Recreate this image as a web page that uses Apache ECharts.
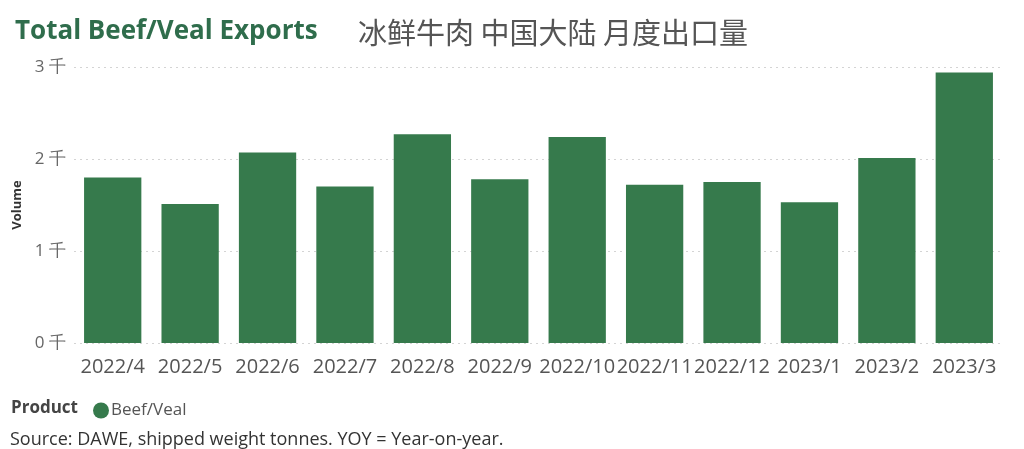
<!DOCTYPE html>
<html>
<head>
<meta charset="utf-8">
<script src="https://cdn.jsdelivr.net/npm/echarts@6/dist/echarts.min.js"></script>
<style>
html,body{margin:0;padding:0;background:#fff;}
#c{width:1024px;height:449px;}
</style>
</head>
<body>
<div id="c"></div>
<script>
const categories = ['2022/4','2022/5','2022/6','2022/7','2022/8','2022/9','2022/10','2022/11','2022/12','2023/1','2023/2','2023/3'];
const beefVeal = [1800, 1510, 2070, 1700, 2270, 1780, 2240, 1720, 1750, 1530, 2010, 2940];
const yTicks = [0, 1000, 2000, 3000];

const chart = echarts.init(document.getElementById('c'));
const font = '"Open Sans", "Noto Sans", sans-serif';
chart.setOption({
  animation: false,
  textStyle: { fontFamily: font },
  title: [
    { text: 'Total Beef/Veal Exports', left: 10, top: 14,
      textStyle: { fontFamily: font, fontSize: 26, fontWeight: 'bold', color: '#2f6d4c' } },
    { text: '冰鲜牛肉 中国大陆 月度出口量', left: 353, top: 13,
      textStyle: { fontFamily: '"Noto Sans CJK SC", sans-serif', fontSize: 29, fontWeight: 'normal', color: '#555' } }
  ],
  grid: { left: 74, right: 21, top: 67, bottom: 106, containLabel: false },
  legend: {
    left: 88, top: 397, itemWidth: 16, itemHeight: 16, icon: 'circle', itemGap: 4,
    textStyle: { fontFamily: font, fontSize: 17, color: '#555', padding: [0,0,0,-3] },
    data: ['Beef/Veal']
  },
  graphic: [
    { type: 'text', left: 11, top: 400, style: { text: 'Product', font: 'bold 17px "Open Sans", sans-serif', fill: '#444' } },
    { type: 'text', left: 10, top: 431, style: { text: 'Source: DAWE, shipped weight tonnes. YOY = Year-on-year.', font: '18px "Open Sans", sans-serif', fill: '#333' } }
  ],
  xAxis: {
    type: 'category', data: categories,
    axisLine: { show: false }, axisTick: { show: false },
    axisLabel: { fontSize: 20, color: '#555', margin: 14, interval: 0, fontFamily: font }
  },
  yAxis: {
    type: 'value', min: 0, max: 3000, interval: 1000,
    name: 'Volume', nameLocation: 'middle', nameGap: 40, nameRotate: 90,
    nameTextStyle: { fontSize: 13, fontWeight: 'bold', color: '#333', fontFamily: font },
    axisLabel: { fontSize: 17, color: '#666', margin: 8, fontFamily: font,
      formatter: v => yTicks.includes(v) ? (v / 1000) + ' 千' : '' },
    splitLine: { lineStyle: { type: [2, 4], color: '#d4d4d4', width: 1 } }
  },
  series: [{
    name: 'Beef/Veal', type: 'bar', data: beefVeal,
    barCategoryGap: '26%',
    itemStyle: { color: '#367a4c' }
  }]
});
</script>
</body>
</html>
